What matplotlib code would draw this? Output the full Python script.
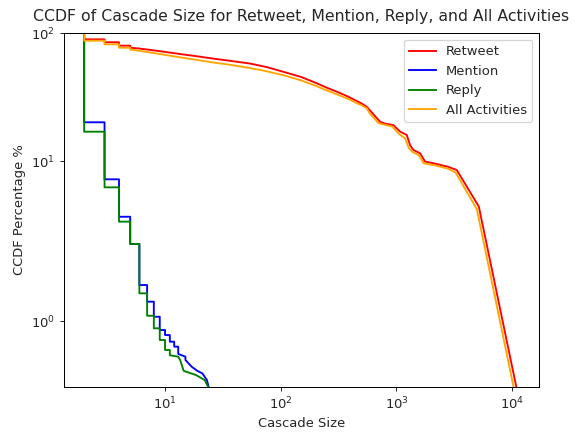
import matplotlib
matplotlib.use("Agg")
import matplotlib.pyplot as plt
from matplotlib.ticker import NullLocator

plt.rcParams['font.size'] = 10.5
plt.rcParams['text.color'] = '#262626'
plt.rcParams['axes.labelcolor'] = '#262626'
plt.rcParams['xtick.color'] = '#262626'
plt.rcParams['ytick.color'] = '#262626'

# CCDF curves (x = cascade size, y = CCDF %)
retweet_x = [2, 2, 3, 3, 4, 4, 5, 5, 6, 8, 10, 14, 18, 25, 35, 54, 75, 105, 150, 205,
             250, 305, 380, 454, 500, 553, 600, 721, 800, 940, 1074, 1227, 1312, 1400,
             1600, 1766, 2200, 2800, 3320, 5150, 11100]
retweet_y = [100, 89.7, 89.7, 85.1, 85.1, 80.0, 80.0, 77.1, 76.0, 73.5, 71.5, 68.5, 66.5,
             63.7, 61.2, 58.0, 54.5, 50.0, 45.5, 40.6, 37.5, 34.9, 32.0, 29.5, 28.2, 26.6,
             24.5, 20.3, 19.6, 19.1, 17.0, 16.0, 13.3, 12.2, 11.5, 9.9, 9.5, 9.0, 8.5, 4.4, 0]

all_x = [2, 2, 3, 3, 4, 4, 5, 5, 6, 8, 10, 14, 18, 25, 35, 54, 75, 105, 150, 205,
         250, 305, 380, 454, 500, 553, 590, 700, 800, 920, 1050, 1190, 1280, 1370,
         1560, 1720, 2200, 2800, 3250, 4950, 10500]
all_y = [100, 87.5, 87.5, 82.0, 82.0, 77.1, 77.1, 74.6, 73.0, 70.0, 67.8, 64.5, 62.3,
         59.4, 57.0, 53.5, 50.5, 47.0, 42.8, 38.5, 35.7, 33.3, 30.7, 28.4, 27.3, 25.9,
         23.5, 19.8, 19.2, 18.6, 16.3, 15.0, 12.6, 11.8, 11.1, 9.6, 9.2, 8.7, 8.1, 4.2, 0]

mention_x = [2, 2, 3, 3, 4, 4, 5, 5, 6, 6, 7, 7, 8, 8, 9, 9, 10, 10, 11, 11, 12, 12,
             13, 13, 15, 15, 17, 19, 21, 23, 24]
mention_y = [100, 20.1, 20.1, 7.19, 7.19, 3.66, 3.66, 2.24, 2.24, 1.51, 1.51, 1.275,
             1.275, 1.063, 1.063, 0.876, 0.876, 0.805, 0.805, 0.711, 0.711, 0.641,
             0.641, 0.538, 0.50, 0.453, 0.358, 0.30, 0.265, 0.171, 0.05]

reply_x = [2, 2, 3, 3, 4, 4, 5, 5, 6, 6, 7, 7, 8, 8, 9, 9, 10, 10, 11, 11, 13, 13.5,
           14.5, 18.5, 22, 24]
reply_y = [100, 16.96, 16.96, 6.22, 6.22, 3.35, 3.35, 2.24, 2.24, 1.393, 1.393, 1.077,
           1.077, 0.90, 0.90, 0.735, 0.735, 0.594, 0.594, 0.52, 0.50, 0.453, 0.30,
           0.241, 0.171, 0.05]

fig = plt.figure(figsize=(575 / 90, 432 / 90), dpi=90)
ax = fig.add_axes([0.1106, 0.1049, 0.8268, 0.8180])

ax.plot(retweet_x, retweet_y, color='red', label='Retweet')
ax.plot(mention_x, mention_y, color='blue', label='Mention')
ax.plot(reply_x, reply_y, color='green', label='Reply')
ax.plot(all_x, all_y, color='orange', label='All Activities')

ax.set_xscale('symlog')
ax.set_yscale('symlog')
ax.set_xlim(1.68, 17060)
ax.set_ylim(0.077, 100)
ax.xaxis.set_minor_locator(NullLocator())
ax.yaxis.set_minor_locator(NullLocator())

ax.set_xlabel('Cascade Size')
ax.set_ylabel('CCDF Percentage %')
ax.set_title('CCDF of Cascade Size for Retweet, Mention, Reply, and All Activities',
             fontsize=12.6, pad=10)
ax.legend(loc='upper right')

fig.savefig('out.png', dpi=90)
